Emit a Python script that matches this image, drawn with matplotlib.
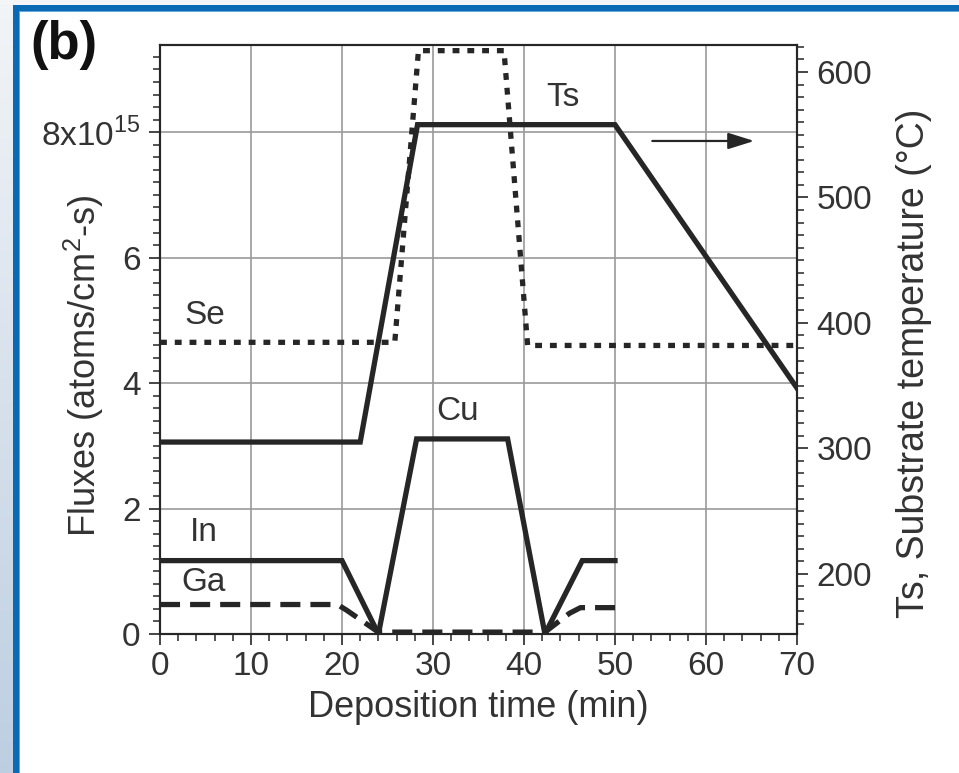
import numpy as np
import matplotlib.pyplot as plt
from matplotlib.patches import Rectangle
from matplotlib.ticker import MultipleLocator, FixedLocator

plt.rcParams['font.family'] = ['Liberation Sans', 'DejaVu Sans']
plt.rcParams['mathtext.fontset'] = 'custom'
plt.rcParams['mathtext.rm'] = 'Liberation Sans'

# fluxes (1e15 atoms/cm2-s) vs deposition time (min)
se_t = [0, 25.8, 28.4, 37.8, 40.4, 70]
se_f = [4.65, 4.65, 9.3, 9.3, 4.6, 4.6]

cu_t = [24.0, 28.2, 38.2, 42.3]
cu_f = [0.0, 3.11, 3.11, 0.0]

in_t = [0, 20.0, 24.0, np.nan, 42.3, 46.4, 50.0]
in_f = [1.17, 1.17, 0.0, np.nan, 0.0, 1.17, 1.17]

ga_t = [0, 19.5, 20.5, 24.0, 42.3, 45.0, 46.2, 50.0]
ga_f = [0.47, 0.47, 0.38, 0.03, 0.03, 0.33, 0.42, 0.42]

# substrate temperature (C)
ts_t = [0, 22.0, 28.3, 50.0, 70.0]
ts_T = [305, 305, 558, 558, 348]

flux_ticks = [0, 2, 4, 6, 8]
flux_labels = ['0', '2', '4', '6', '8x10$^{15}$']
temp_ticks = [200, 300, 400, 500, 600]
time_ticks = [0, 10, 20, 30, 40, 50, 60, 70]

W, H = 959, 773
fig = plt.figure(figsize=(W / 100, H / 100), dpi=100)

# slide frame
bg = fig.add_axes([0, 0, 1, 1], zorder=-10)
bg.set_xlim(0, W)
bg.set_ylim(H, 0)
bg.axis('off')
grad = np.linspace(0, 1, 200)[:, None, None]
top_c = np.array([0.95, 0.96, 0.97])
bot_c = np.array([0.74, 0.81, 0.88])
bg.imshow(top_c + grad * (bot_c - top_c), extent=[0, 13, H, 0], aspect='auto')
bg.add_patch(Rectangle((0, 0), W, 5, color='#f3f5f7', lw=0))
bg.add_patch(Rectangle((13, 5), W - 13, 6, color='#0a6ab4', lw=0))
bg.add_patch(Rectangle((13, 5), 5.5, H, color='#0a6ab4', lw=0))
bg.add_patch(Rectangle((18.5, 11), 1.5, H, color='#6aa6d8', lw=0))
bg.add_patch(Rectangle((18.5, 11), W, 1.2, color='#6aa6d8', lw=0))

ax = fig.add_axes([160 / W, 1 - 634 / H, 637 / W, 589 / H])
ax2 = ax.twinx()

lc = '#262626'
ax.plot(se_t, se_f, color=lc, lw=3.8, ls=(0, (1.3, 1.5)))
ax.plot(ga_t, ga_f, color=lc, lw=3.8, ls=(0, (3.8, 1.9)))
ax.plot(in_t, in_f, color=lc, lw=3.8, solid_joinstyle='miter')
ax.plot(cu_t, cu_f, color=lc, lw=3.8, solid_joinstyle='miter')
ax2.plot(ts_t, ts_T, color=lc, lw=3.8, solid_joinstyle='miter')

ax.set_xlim(0, 70)
ax.set_ylim(0, 9.39)
ax2.set_ylim(152, 621.5)

ax.xaxis.set_major_locator(FixedLocator(time_ticks))
ax.xaxis.set_minor_locator(MultipleLocator(2))
ax.yaxis.set_major_locator(FixedLocator(flux_ticks))
ax.set_yticklabels(flux_labels)
ax.yaxis.set_minor_locator(MultipleLocator(0.2))
ax2.yaxis.set_major_locator(FixedLocator(temp_ticks))
ax2.yaxis.set_minor_locator(MultipleLocator(10))

ax.grid(True, which='major', color='#9a9a9a', lw=1.2)
ax.set_axisbelow(True)

for a in (ax, ax2):
    for s in a.spines.values():
        s.set_linewidth(1.5)
        s.set_color(lc)
ax.tick_params(which='major', direction='out', length=8, width=1.2, color=lc,
               labelsize=24, labelcolor='#333333', top=False, right=False)
ax.tick_params(which='minor', direction='out', length=5, width=1.1, color=lc,
               top=False, right=False)
ax.tick_params(axis='y', which='major', pad=6)
ax.tick_params(axis='x', which='major', pad=4)
ax2.tick_params(which='major', direction='out', length=8, width=1.2, color=lc,
                labelsize=24, labelcolor='#333333', pad=6)
ax2.tick_params(which='minor', direction='out', length=5, width=1.1, color=lc)

ax.set_xlabel('Deposition time (min)', fontsize=26, color='#333333', labelpad=6)
ax.set_ylabel('Fluxes (atoms/cm$^2$-s)', fontsize=26, color='#333333')
ax.yaxis.set_label_coords(-0.085, 0.455)
ax2.set_ylabel('Ts, Substrate temperature (°C)', fontsize=27, color='#333333')
ax2.yaxis.set_label_coords(1.155, 0.46)

tc = '#333333'
ax.text(44.3, 8.56, 'Ts', fontsize=24, color=tc, ha='center', va='center')
ax.text(4.9, 5.07, 'Se', fontsize=24, color=tc, ha='center', va='center')
ax.text(32.7, 3.54, 'Cu', fontsize=24, color=tc, ha='center', va='center')
ax.text(4.8, 1.62, 'In', fontsize=24, color=tc, ha='center', va='center')
ax.text(4.8, 0.82, 'Ga', fontsize=24, color=tc, ha='center', va='center')
ax.annotate('', xy=(65.3, 7.86), xytext=(54.1, 7.86),
            arrowprops=dict(arrowstyle='-|>,head_length=0.8,head_width=0.25',
                            color=lc, lw=1.6, mutation_scale=20, shrinkA=0, shrinkB=0))

fig.text(30 / W, 1 - 20 / H, '(b)', fontsize=38, fontweight='bold', color='#111111',
         ha='left', va='top')

plt.savefig('out.png', dpi=100)
